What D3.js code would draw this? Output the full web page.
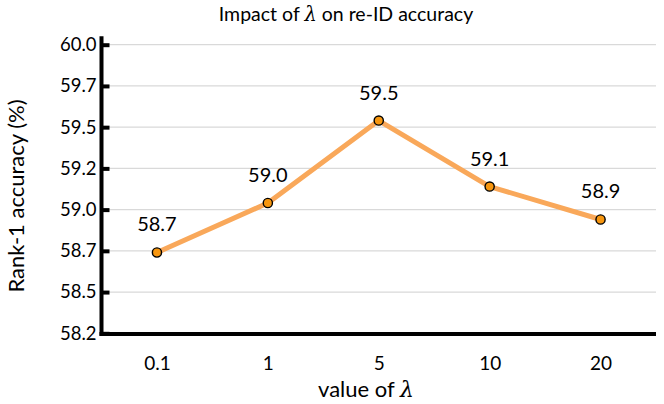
<!DOCTYPE html>
<html>
<head>
<meta charset="utf-8">
<script src="https://cdn.jsdelivr.net/npm/d3@7"></script>
<style>
  body { margin: 0; background: #fff; }
  text { font-family: Lato, "Open Sans", sans-serif; fill: #000; }
</style>
</head>
<body>
<div id="chart"></div>
<script>
// Data
const lambdas = ['0.1', '1', '5', '10', '20']
const accuracy = [58.74, 59.04, 59.54, 59.14, 58.94]
const yTickValues = [58.25, 58.5, 58.75, 59.0, 59.25, 59.5, 59.75, 60.0]
const yTickLabels = ['58.2', '58.5', '58.7', '59.0', '59.2', '59.5', '59.7', '60.0']

function draw() {
    //Dimensions
    let dimensions = {
        width: 664,
        height: 404,
        margin: {
            top: 44.7,
            bottom: 70.7,
            left: 101.5,
            right: 8
        }
    }
    dimensions.ctrWidth = dimensions.width - dimensions.margin.left - dimensions.margin.right
    dimensions.ctrHeight = dimensions.height - dimensions.margin.top - dimensions.margin.bottom

    const svg = d3.select('#chart')
        .append('svg')
        .attr('width', dimensions.width)
        .attr('height', dimensions.height)

    const ctr = svg.append('g')
        .attr('transform', `translate(${dimensions.margin.left},${dimensions.margin.top})`)

    //Scales
    const xScale = d3.scalePoint()
        .domain(lambdas)
        .range([0, dimensions.ctrWidth])
        .padding(0.5)

    const yScale = d3.scaleLinear()
        .domain([58.25, 60.0])
        .range([dimensions.ctrHeight, 0])

    // gridlines
    ctr.append('g')
        .selectAll('line')
        .data(yTickValues.slice(1))
        .join('line')
        .attr('x1', 0)
        .attr('x2', dimensions.ctrWidth)
        .attr('y1', d => yScale(d))
        .attr('y2', d => yScale(d))
        .attr('stroke', '#d9d9d9')
        .attr('stroke-width', 1.3)

    //Axes
    const yAxis = d3.axisLeft(yScale)
        .tickValues(yTickValues)
        .tickFormat((d, i) => yTickLabels[i])
        .tickSize(-8)
        .tickSizeOuter(0)
        .tickPadding(5)
    const yAxisGroup = ctr.append('g').call(yAxis)
    yAxisGroup.select('.domain').remove()
    yAxisGroup.selectAll('.tick line').attr('stroke', '#000').attr('stroke-width', 4)
    yAxisGroup.selectAll('.tick text')
        .style('font-size', '18.5px')
        .attr('fill', '#000')
    yAxisGroup.append('line')
        .attr('x1', 0)
        .attr('x2', 0)
        .attr('y1', yScale(60.0) - 8.5)
        .attr('y2', dimensions.ctrHeight + 2.5)
        .attr('stroke', '#000')
        .attr('stroke-width', 4)

    const xAxis = d3.axisBottom(xScale)
        .tickSize(0)
        .tickSizeOuter(0)
        .tickPadding(22.5)
    const xAxisGroup = ctr.append('g')
        .call(xAxis)
        .attr('transform', `translate(0,${dimensions.ctrHeight + 0.7})`)
    xAxisGroup.select('.domain').remove()
    xAxisGroup.selectAll('.tick text')
        .style('font-size', '19px')
        .attr('fill', '#000')
    xAxisGroup.append('line')
        .attr('x1', -2)
        .attr('x2', dimensions.ctrWidth)
        .attr('stroke', '#000')
        .attr('stroke-width', 4)

    // line
    const line = d3.line()
        .x((d, i) => xScale(lambdas[i]))
        .y(d => yScale(d))
    ctr.append('path')
        .datum(accuracy)
        .attr('d', line)
        .attr('fill', 'none')
        .attr('stroke', '#f9a85a')
        .attr('stroke-width', 5)
        .attr('stroke-linejoin', 'round')

    ctr.selectAll('circle')
        .data(accuracy)
        .join('circle')
        .attr('cx', (d, i) => xScale(lambdas[i]))
        .attr('cy', d => yScale(d))
        .attr('r', 4.6)
        .attr('fill', '#f7960f')
        .attr('stroke', '#000')
        .attr('stroke-width', 1.4)

    // data labels
    ctr.selectAll('.dlabel')
        .data(accuracy)
        .join('text')
        .attr('class', 'dlabel')
        .attr('x', (d, i) => xScale(lambdas[i]))
        .attr('y', d => yScale(d) - 21)
        .attr('text-anchor', 'middle')
        .style('font-size', '20px')
        .text(d => d3.format('.1f')(d))

    // titles
    const title = svg.append('text')
        .attr('x', 346)
        .attr('y', 21)
        .attr('text-anchor', 'middle')
        .style('font-size', '19.5px')
    title.append('tspan').text('Impact of ')
    title.append('tspan').text('λ').style('font-family', '"DejaVu Serif", serif').style('font-style', 'italic')
    title.append('tspan').text(' on re-ID accuracy')

    const xTitle = svg.append('text')
        .attr('x', 366)
        .attr('y', 396.5)
        .attr('text-anchor', 'middle')
        .style('font-size', '22px')
    xTitle.append('tspan').text('value of ')
    xTitle.append('tspan').text('λ').style('font-family', '"DejaVu Serif", serif').style('font-style', 'italic')

    svg.append('text')
        .attr('transform', 'translate(24,196) rotate(-90)')
        .attr('text-anchor', 'middle')
        .style('font-size', '22px')
        .text('Rank-1 accuracy (%)')
}
draw()
</script>
</body>
</html>
